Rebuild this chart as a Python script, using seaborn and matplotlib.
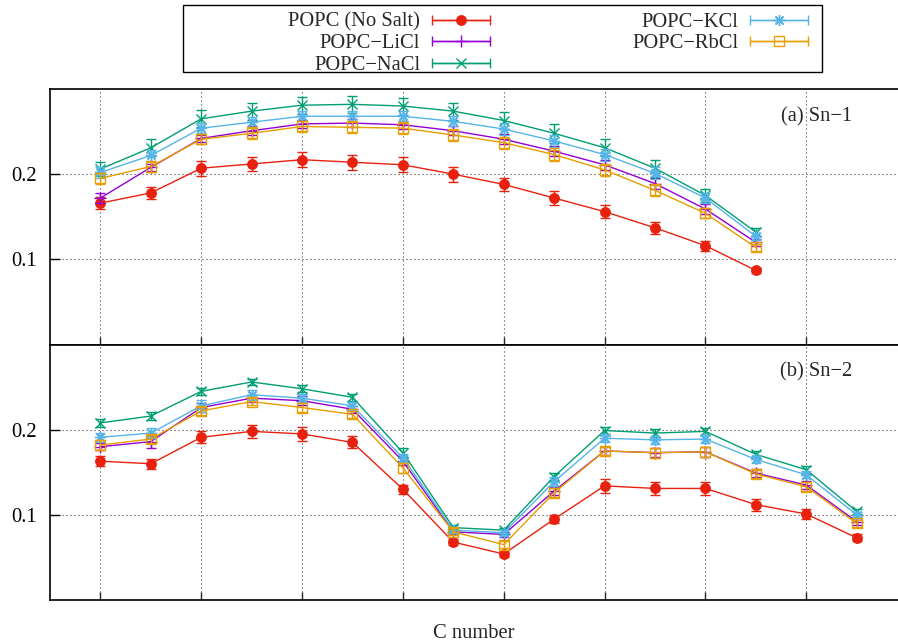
import numpy as np
import pandas as pd
import seaborn as sns
import matplotlib
matplotlib.use("Agg")
import matplotlib.pyplot as plt
from matplotlib.container import ErrorbarContainer
from matplotlib.legend_handler import HandlerErrorbar
from matplotlib.patches import Rectangle

# ---------------- data ----------------
series_names = ["POPC (No Salt)", "POPC\u2212LiCl", "POPC\u2212NaCl", "POPC\u2212KCl", "POPC\u2212RbCl"]

c_sn1 = list(range(2, 16))
c_sn2 = list(range(2, 18))

nosalt_sn1 = [0.166, 0.178, 0.207, 0.212, 0.217, 0.214, 0.211, 0.200, 0.188, 0.172, 0.156, 0.137, 0.116, 0.087]
licl_sn1   = [0.172, 0.208, 0.242, 0.251, 0.259, 0.260, 0.258, 0.251, 0.241, 0.227, 0.211, 0.189, 0.159, 0.120]
nacl_sn1   = [0.206, 0.231, 0.265, 0.274, 0.281, 0.282, 0.280, 0.274, 0.263, 0.248, 0.231, 0.207, 0.175, 0.132]
kcl_sn1    = [0.202, 0.222, 0.254, 0.261, 0.268, 0.268, 0.268, 0.262, 0.253, 0.239, 0.223, 0.201, 0.172, 0.127]
rbcl_sn1   = [0.195, 0.209, 0.241, 0.248, 0.256, 0.255, 0.254, 0.246, 0.237, 0.223, 0.205, 0.181, 0.154, 0.114]

nosalt_sn1_err = [0.007, 0.007, 0.009, 0.008, 0.009, 0.009, 0.009, 0.009, 0.008, 0.008, 0.008, 0.007, 0.006, 0.003]
licl_sn1_err   = [0.006, 0.004, 0.004, 0.005, 0.005, 0.005, 0.005, 0.005, 0.006, 0.006, 0.006, 0.007, 0.006, 0.004]
nacl_sn1_err   = [0.008, 0.010, 0.010, 0.010, 0.010, 0.010, 0.010, 0.010, 0.010, 0.011, 0.010, 0.010, 0.008, 0.005]
kcl_sn1_err    = [0.006, 0.006, 0.006, 0.006, 0.006, 0.006, 0.006, 0.006, 0.007, 0.007, 0.007, 0.007, 0.006, 0.004]
rbcl_sn1_err   = [0.006, 0.006, 0.006, 0.007, 0.007, 0.007, 0.007, 0.007, 0.007, 0.008, 0.007, 0.007, 0.006, 0.004]

nosalt_sn2 = [0.163, 0.160, 0.191, 0.198, 0.195, 0.185, 0.130, 0.068, 0.054, 0.095, 0.134, 0.131, 0.131, 0.112, 0.101, 0.073]
licl_sn2   = [0.180, 0.186, 0.226, 0.237, 0.234, 0.224, 0.163, 0.080, 0.077, 0.128, 0.175, 0.173, 0.174, 0.149, 0.135, 0.092]
nacl_sn2   = [0.208, 0.216, 0.245, 0.256, 0.248, 0.238, 0.173, 0.085, 0.082, 0.145, 0.199, 0.196, 0.198, 0.171, 0.153, 0.104]
kcl_sn2    = [0.191, 0.196, 0.228, 0.241, 0.237, 0.228, 0.167, 0.082, 0.079, 0.139, 0.190, 0.188, 0.189, 0.165, 0.147, 0.100]
rbcl_sn2   = [0.182, 0.189, 0.222, 0.233, 0.226, 0.218, 0.155, 0.080, 0.065, 0.126, 0.175, 0.173, 0.174, 0.148, 0.133, 0.090]

nosalt_sn2_err = [0.006, 0.006, 0.007, 0.008, 0.008, 0.007, 0.005, 0.004, 0.004, 0.005, 0.008, 0.008, 0.008, 0.007, 0.006, 0.004]
licl_sn2_err   = [0.004, 0.007, 0.005, 0.004, 0.005, 0.004, 0.005, 0.003, 0.003, 0.005, 0.005, 0.005, 0.006, 0.005, 0.005, 0.004]
nacl_sn2_err   = [0.005, 0.005, 0.004, 0.004, 0.004, 0.004, 0.005, 0.003, 0.003, 0.004, 0.004, 0.005, 0.004, 0.004, 0.004, 0.003]
kcl_sn2_err    = [0.005, 0.006, 0.007, 0.006, 0.005, 0.005, 0.005, 0.003, 0.003, 0.005, 0.005, 0.005, 0.005, 0.004, 0.004, 0.003]
rbcl_sn2_err   = [0.006, 0.005, 0.005, 0.004, 0.005, 0.004, 0.006, 0.004, 0.004, 0.005, 0.005, 0.006, 0.006, 0.005, 0.005, 0.004]

sn1_values = [nosalt_sn1, licl_sn1, nacl_sn1, kcl_sn1, rbcl_sn1]
sn1_errors = [nosalt_sn1_err, licl_sn1_err, nacl_sn1_err, kcl_sn1_err, rbcl_sn1_err]
sn2_values = [nosalt_sn2, licl_sn2, nacl_sn2, kcl_sn2, rbcl_sn2]
sn2_errors = [nosalt_sn2_err, licl_sn2_err, nacl_sn2_err, kcl_sn2_err, rbcl_sn2_err]

# ---------------- style ----------------
sns.set_theme(style="white")
plt.rcParams["font.family"] = ["Liberation Serif", "DejaVu Serif"]
FS = 14.8

colors = ["#e8210f", "#9400d3", "#009e73", "#56b4e9", "#e69f00"]
markers = ["o", "+", "x", (8, 2, 0), "s"]
msizes = [6.8, 8, 6.5, 8, 6.5]
filled = [True, False, False, False, False]

W, H = 898, 642
fig = plt.figure(figsize=(W / 100, H / 100), dpi=100)
left, right = 50, 898
top1, mid, bot2 = 89, 344.5, 600
ax1 = fig.add_axes([left / W, 1 - mid / H, (right - left) / W, (mid - top1) / H])
ax2 = fig.add_axes([left / W, 1 - bot2 / H, (right - left) / W, (bot2 - mid) / H], sharex=ax1)

legend_handles = []


def draw_panel(ax, cs, values, errors, collect):
    for i, (vals, errs) in enumerate(zip(values, errors)):
        df = pd.DataFrame({"C": cs, "S": vals})
        c = colors[i]
        mfc = c if filled[i] else "none"
        sns.lineplot(data=df, x="C", y="S", ax=ax, color=c, marker=markers[i],
                     markersize=msizes[i], markeredgecolor=c, markerfacecolor=mfc,
                     markeredgewidth=1.0, linewidth=1.0, zorder=3 + i, legend=False)
        line = ax.lines[-1]
        eb = ax.errorbar(cs, vals, yerr=errs, fmt="none", ecolor=c, elinewidth=1.0,
                         capsize=3.4, capthick=1.0, zorder=3 + i)
        if collect:
            cont = ErrorbarContainer((line, eb.lines[1], eb.lines[2]),
                                     has_xerr=True, has_yerr=False, label=series_names[i])
            legend_handles.append(cont)


draw_panel(ax1, c_sn1, sn1_values, sn1_errors, True)
draw_panel(ax2, c_sn2, sn2_values, sn2_errors, False)

for ax in (ax1, ax2):
    ax.set_xlim(1, 17.82)
    ax.set_ylim(0, 0.3)
    ax.set_yticks([0.1, 0.2])
    ax.set_yticklabels(["0.1", "0.2"])
    ax.set_xticks([2, 4, 6, 8, 10, 12, 14, 16])
    ax.tick_params(axis="y", direction="in", length=7, width=1, pad=9.4,
                   labelsize=FS, left=True, colors="black")
    ax.tick_params(axis="x", direction="in", length=6, width=1, bottom=True,
                   labelbottom=False)
    ax.grid(True, color="0.25", linestyle=(0, (1, 2.6)), linewidth=0.8)
    ax.set_ylabel("")
    ax.set_xlabel("")
    for s in ("left", "top", "bottom"):
        ax.spines[s].set_visible(True)
        ax.spines[s].set_color("black")
        ax.spines[s].set_linewidth(1.2)
    ax.spines["right"].set_visible(False)

ax2.set_xlabel("C number", fontsize=FS, labelpad=17)

ax1.text(0.946, 0.89, "(a) Sn\u22121", transform=ax1.transAxes,
         ha="right", va="center", fontsize=FS)
ax2.text(0.946, 0.892, "(b) Sn\u22122", transform=ax2.transAxes,
         ha="right", va="center", fontsize=FS)

# ---------------- legend ----------------
HL = 2.8
hmap = {ErrorbarContainer: HandlerErrorbar(xerr_size=HL / 2)}
common = dict(frameon=False, markerfirst=False, fontsize=FS, handlelength=HL,
              handletextpad=0.6, labelspacing=0.1, borderpad=0, borderaxespad=0,
              numpoints=1, handler_map=hmap, loc="upper right")
fig.legend(handles=legend_handles[:3], bbox_to_anchor=(490 / W, 1 - 12.5 / H), **common)
fig.legend(handles=legend_handles[3:], bbox_to_anchor=(808 / W, 1 - 12.5 / H), **common)

fig.patches.append(Rectangle((183 / W, 1 - 72 / H), (822 - 183) / W, (72 - 5) / H,
                             transform=fig.transFigure, fill=False, edgecolor="black",
                             linewidth=1.0))

fig.savefig("out.png", dpi=100)
